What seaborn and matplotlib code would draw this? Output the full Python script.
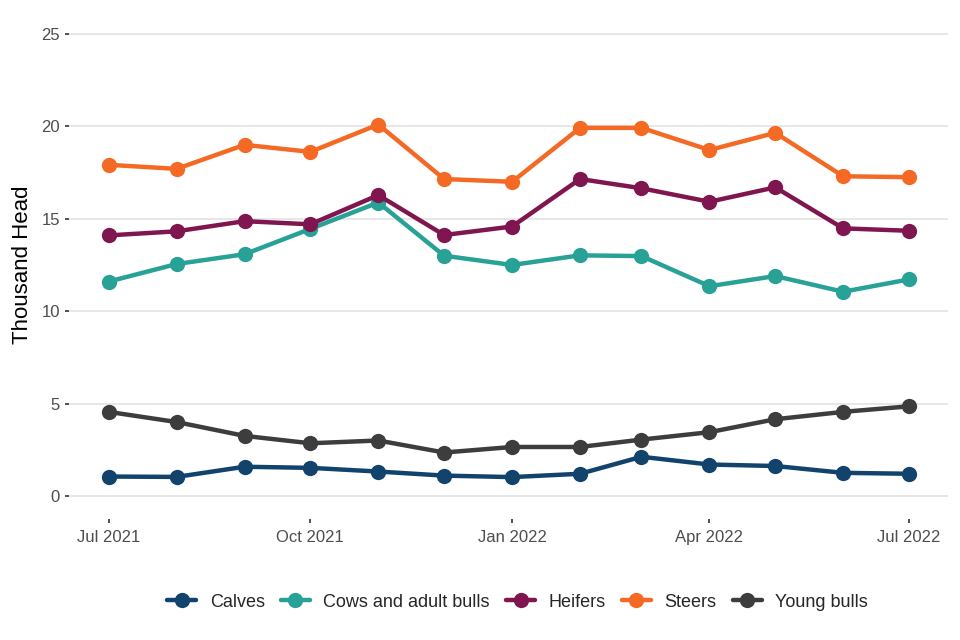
import pandas as pd
import numpy as np
import matplotlib.pyplot as plt
import matplotlib.dates as mdates
import seaborn as sns

# Monthly cattle values (thousand head)
months = ['2021-07-01', '2021-08-01', '2021-09-01', '2021-10-01', '2021-11-01',
          '2021-12-01', '2022-01-01', '2022-02-01', '2022-03-01', '2022-04-01',
          '2022-05-01', '2022-06-01', '2022-07-01']
calves = [1.05, 1.03, 1.58, 1.52, 1.32, 1.10, 1.02, 1.20, 2.12, 1.70, 1.62, 1.25, 1.20]
cows = [11.60, 12.55, 13.08, 14.45, 15.88, 13.00, 12.50, 13.02, 12.98, 11.35, 11.90, 11.05, 11.72]
heifers = [14.10, 14.32, 14.87, 14.70, 16.28, 14.12, 14.58, 17.15, 16.65, 15.92, 16.70, 14.48, 14.35]
steers = [17.92, 17.70, 19.00, 18.62, 20.10, 17.15, 17.00, 19.92, 19.92, 18.72, 19.65, 17.30, 17.25]
young_bulls = [4.55, 4.00, 3.25, 2.85, 3.00, 2.35, 2.65, 2.65, 3.05, 3.45, 4.15, 4.55, 4.85]

categories = ['Calves', 'Cows and adult bulls', 'Heifers', 'Steers', 'Young bulls']
colours = ['#12436D', '#28A197', '#801650', '#F46A25', '#3D3D3D']

series = [calves, cows, heifers, steers, young_bulls]
frames = []
for name, vals in zip(categories, series):
    frames.append(pd.DataFrame({'Date': pd.to_datetime(months), 'Value': vals, 'Category': name}))
df = pd.concat(frames, ignore_index=True)

sns.set_theme(style='white')
plt.rcParams['font.family'] = ['Liberation Sans', 'DejaVu Sans']

fig = plt.figure(figsize=(9.6, 6.4), dpi=100)
ax = fig.add_axes([0.072, 0.189, 0.916, 0.794])

sns.lineplot(data=df, x='Date', y='Value', hue='Category', hue_order=categories,
             palette=colours, marker='o', markersize=11, markeredgewidth=0,
             linewidth=3.2, ax=ax)

ax.set_ylim(-1.25, 26.25)
ax.set_yticks([0, 5, 10, 15, 20, 25])
pad = pd.Timedelta(days=18)
ax.set_xlim(pd.Timestamp(months[0]) - pad, pd.Timestamp(months[-1]) + pad)
ax.xaxis.set_major_locator(mdates.MonthLocator(bymonth=[1, 4, 7, 10]))
ax.xaxis.set_major_formatter(mdates.DateFormatter('%b %Y'))

ax.grid(axis='y', color='#E5E5E5', linewidth=1.3)
ax.grid(axis='x', visible=False)
for s in ax.spines.values():
    s.set_visible(False)
ax.tick_params(axis='both', colors='#333333', labelcolor='#4D4D4D', labelsize=12,
               length=3, width=1.2, direction='out', left=True, bottom=True)
ax.tick_params(axis='x', pad=5)

ax.set_xlabel('')
ax.set_ylabel('Thousand Head', fontsize=16, color='black', labelpad=6)

handles, labels = ax.get_legend_handles_labels()
ax.legend(handles, labels, loc='upper center', bbox_to_anchor=(0.51, -0.115), ncol=5,
          frameon=False, fontsize=13, handlelength=1.6, columnspacing=0.9, handletextpad=0.75)

plt.savefig('out.png', dpi=100)
